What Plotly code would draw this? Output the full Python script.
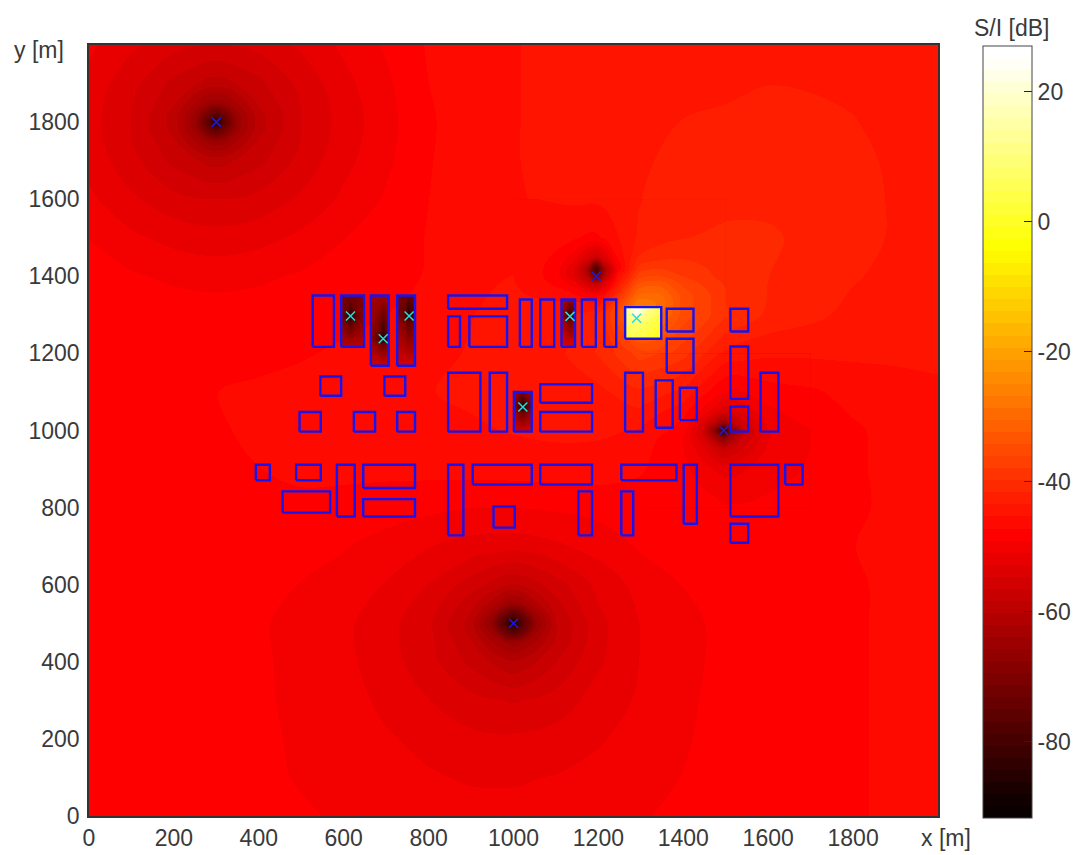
import plotly.graph_objects as go

# ---------- axis / colour bar ----------
X_TICKS = [0, 200, 400, 600, 800, 1000, 1200, 1400, 1600, 1800]
Y_TICKS = [0, 200, 400, 600, 800, 1000, 1200, 1400, 1600, 1800]
CBAR_TICKS = [20, 0, -20, -40, -60, -80]
CBAR_TEXT = ["20", "0", "-20", "-40", "-60", "-80"]
ZMIN, ZMAX = -91.7, 27.0

# ---------- S/I field (dB), rows from y=2000 downwards ----------
FIELD_X = [0, 100, 200, 300, 400, 500, 600, 700, 800, 900, 1000, 1100, 1200, 1300, 1400, 1500, 1600, 1700, 1800, 1900, 2000]
FIELD_Y = [2000, 1900, 1800, 1700, 1600, 1500, 1400, 1300, 1200, 1100, 1000, 900, 800, 700, 600, 500, 400, 300, 200, 100, 0]
FIELD_Z = [
    [-50.5,-52.4,-54,-54.6,-54,-52.4,-50.5,-48.8,-47,-46.2,-45.4,-45,-44.8,-44.7,-44.6,-44.5,-44.5,-44.5,-44.5,-44.6,-44.7],
    [-51.5,-54,-57,-59,-57,-54,-51.5,-49.4,-47.2,-46.2,-45.4,-45,-44.7,-44.4,-44.1,-43.8,-43.5,-43.6,-43.8,-44.2,-44.5],
    [-52,-54.6,-59,-62,-59,-54.6,-52,-49.7,-47.4,-46.3,-45.4,-45,-44.6,-44.2,-43.4,-43.2,-43.1,-43.1,-43.4,-44,-44.4],
    [-51.5,-54,-57,-59,-57,-54,-51.5,-49.4,-47.3,-46.3,-45.4,-45,-44.5,-43.7,-43,-42.8,-42.6,-42.6,-43,-43.8,-44.3],
    [-50.5,-52.4,-54,-54.6,-54,-52.4,-50.5,-48.8,-47.2,-46.3,-45.5,-45,-44.5,-43.5,-42.6,-42.2,-42,-42.2,-42.8,-43.7,-44.3],
    [-49.1,-50.5,-51.5,-52,-51.5,-50.5,-49.1,-48,-47.1,-46.4,-45.7,-45,-44.8,-43.5,-41.7,-41.2,-41.4,-42,-42.8,-43.7,-44.4],
    [-48,-48.8,-49.4,-49.7,-49.4,-48.8,-48.2,-47.6,-47.1,-46.5,-45.3,-47,-50,-36,-38.5,-40.5,-41.6,-42.4,-43.3,-44,-44.7],
    [-47.6,-47.8,-48,-48.1,-48,-47.8,-47.5,-47.2,-46.5,-45.4,-44.6,-44,-40,-28,-35,-39.5,-42,-43,-44,-44.8,-45.2],
    [-47.5,-47.5,-47.5,-47.5,-47.5,-47.3,-47,-46.5,-45.8,-45.2,-44.6,-44,-41.5,-37,-39,-44,-45,-45,-45,-45,-45],
    [-47.5,-47.5,-47.5,-47.2,-47,-46.8,-46.5,-45.8,-45.4,-45,-44.6,-44.3,-44,-42,-44,-49,-48,-47.5,-46.5,-46,-45.6],
    [-47.6,-47.6,-47.5,-47.3,-47,-46.8,-46.6,-46.3,-46,-45.6,-45.2,-44.9,-45,-45.5,-48,-55,-51,-49,-47.5,-46.5,-46.2],
    [-47.7,-47.7,-47.6,-47.4,-47.2,-47,-46.9,-46.8,-46.6,-46.5,-46.4,-46.3,-46.3,-47,-48.5,-51.5,-50,-48.8,-47.5,-46.6,-46.4],
    [-47.6,-47.6,-47.6,-47.5,-47.4,-47.4,-47.6,-48,-48.6,-49,-49,-48.8,-48.4,-48,-47.8,-48.8,-48.5,-48,-47.4,-46.9,-46.6],
    [-47.5,-47.5,-47.6,-47.7,-47.9,-48.3,-48.9,-49.9,-50.8,-51.6,-51.9,-51.2,-50.2,-48.8,-48.2,-47.9,-47.7,-47.5,-47.2,-47,-46.6],
    [-47.5,-47.6,-47.7,-48,-48.5,-49.1,-49.8,-51,-52.8,-57,-58,-57,-52.2,-50.2,-49,-48.4,-48,-47.6,-47.3,-47,-46.8],
    [-47.6,-47.7,-47.8,-48.2,-48.8,-49.7,-50.5,-52,-54.3,-59,-70,-58.4,-53.3,-50.8,-49.4,-48.7,-48.1,-47.7,-47.3,-47,-46.8],
    [-47.7,-47.8,-48,-48.4,-48.8,-49.5,-50.4,-51.9,-53.9,-57,-60,-56.5,-53,-50.8,-49.4,-48.7,-48.1,-47.7,-47.3,-47,-46.8],
    [-47.7,-47.8,-48,-48.4,-48.8,-49.4,-50.2,-51.3,-52.7,-54,-54.8,-53.8,-52,-50.6,-49.3,-48.6,-48,-47.6,-47.3,-47,-46.8],
    [-47.7,-47.8,-48,-48.3,-48.7,-49.3,-49.9,-50.7,-51.4,-52.3,-52.4,-52,-51.1,-50.1,-49.2,-48.5,-48,-47.6,-47.3,-47,-46.8],
    [-47.7,-47.8,-47.9,-48.2,-48.6,-49.2,-49.6,-50.1,-50.7,-51.1,-51.1,-50.8,-50.3,-49.6,-49,-48.4,-48,-47.6,-47.3,-47,-46.8],
    [-47.7,-47.7,-47.8,-48,-48.4,-48.8,-49.3,-49.6,-50,-50.2,-50.3,-50.2,-49.8,-49.2,-48.6,-48.2,-47.9,-47.6,-47.3,-47,-46.8],
]

# ---------- finer readings around the four transmitters ----------
NEAR1_X = [100, 200, 250, 280, 300, 320, 350, 400, 500]
NEAR1_Y = [2000, 1900, 1850, 1820, 1800, 1780, 1750, 1700, 1600]
NEAR1_Z = [
    [-52.4,-54,-54.5,-54.6,-54.6,-54.6,-54.5,-54,-52.4],
    [-54,-57,-58,-59,-59,-59,-58,-57,-54],
    [-54.5,-58,-62,-64.5,-65,-64.5,-62,-58,-54.5],
    [-54.6,-59,-64.5,-72,-76,-72,-64.5,-59,-54.6],
    [-54.6,-59,-65,-76,-86,-76,-65,-59,-54.6],
    [-54.6,-59,-64.5,-72,-76,-72,-64.5,-59,-54.6],
    [-54.5,-58,-62,-64.5,-65,-64.5,-62,-58,-54.5],
    [-54,-57,-58,-59,-59,-59,-58,-57,-54],
    [-52.4,-54,-54.5,-54.6,-54.6,-54.6,-54.5,-54,-52.4],
]
NEAR2_X = [800, 900, 950, 980, 1000, 1020, 1050, 1100, 1200]
NEAR2_Y = [700, 600, 550, 520, 500, 480, 450, 400, 300]
NEAR2_Z = [
    [-50.8,-51.6,-51.8,-51.9,-51.9,-51.9,-51.8,-51.2,-50.2],
    [-52.8,-55.5,-57,-58,-58.3,-58,-57,-55.5,-52.2],
    [-53.5,-57.5,-61,-64,-65,-64,-61,-57,-52.7],
    [-54,-58.5,-65,-74,-78,-74,-65,-58,-53],
    [-54.3,-59,-67,-78,-86,-78,-67,-58.4,-53.3],
    [-54.2,-59,-65,-74,-78,-74,-65,-58.5,-53.3],
    [-54,-58,-62,-64,-65,-64,-62,-58,-53.3],
    [-53.9,-57,-58.5,-59.5,-60,-59.5,-58.5,-56.5,-53],
    [-52.7,-54,-54.5,-54.7,-54.8,-54.6,-54.4,-53.8,-52],
]
NEAR3_X = [1000, 1100, 1145, 1175, 1195, 1215, 1245, 1295, 1345, 1400, 1500]
NEAR3_Y = [1600, 1500, 1450, 1420, 1400, 1380, 1350, 1330, 1300, 1200]
NEAR3_Z = [
    [-45.5,-45.2,-45,-45,-45,-44.8,-44.4,-43.6,-43,-42.6,-42.2],
    [-45.7,-46.5,-47,-47.5,-47.5,-47,-45.5,-43.2,-42.3,-41.7,-41.2],
    [-45.5,-47.5,-50,-54,-56,-53,-47,-41.5,-40.5,-40,-40.8],
    [-45.3,-48,-53,-62,-80,-62,-49,-39,-38,-38.8,-40.5],
    [-45.3,-48,-53,-60,-75,-60,-46,-37,-36,-38,-40.5],
    [-45.2,-47.5,-50,-55,-58,-53,-44,-34,-33,-36.5,-40],
    [-45,-46,-47,-48,-48,-46,-40,-30,-30,-35,-39.5],
    [-44.8,-45,-45,-45,-45,-43,-37.5,-27,-29,-35,-39.5],
    [-44.6,-44,-43.5,-43,-42,-40,-35,-27,-30,-35,-39.5],
    [-44.6,-44,-43,-42.5,-41.5,-41,-39.5,-37.2,-37,-39,-44],
]
NEAR4_X = [1300, 1400, 1445, 1475, 1495, 1515, 1545, 1600, 1700]
NEAR4_Y = [1200, 1100, 1050, 1020, 1000, 980, 950, 900, 800]
NEAR4_Z = [
    [-37,-39,-41.5,-43,-44,-44.2,-44.5,-45,-45],
    [-42,-44,-46.5,-48,-49,-49.5,-49,-48,-47.5],
    [-44,-46.5,-49.5,-52,-54,-53.5,-52,-49.5,-48],
    [-45,-47.5,-53,-60,-65,-60,-55,-50.5,-48.5],
    [-45.5,-48,-55,-68,-84,-68,-57,-51,-49],
    [-46,-49,-54,-62,-68,-62,-56,-51,-49],
    [-46.5,-49,-52,-55,-57,-56,-54,-50.5,-49],
    [-47,-48.5,-50,-51,-51.5,-51.5,-51,-50,-48.8],
    [-48,-47.8,-48,-48.3,-48.8,-48.8,-48.8,-48.5,-48],
]

# ---------- readings inside the six buildings that hold a mobile ----------
INDOOR1_X = [594, 604, 616, 628, 648]
INDOOR1_Y = [1350, 1312, 1297, 1282, 1217]
INDOOR1_Z = [[-72,-71,-70,-71,-72],[-70,-72,-80,-72,-68],[-68,-78,-86,-76,-68],[-68,-72,-78,-72,-67],[-60,-60,-59,-60,-60]]
INDOOR2_X = [664, 680, 693, 706]
INDOOR2_Y = [1350, 1253, 1238, 1223, 1168]
INDOOR2_Z = [[-63,-63,-63,-63],[-66,-72,-82,-72],[-67,-76,-86,-76],[-64,-68,-74,-68],[-56,-56,-56,-56]]
INDOOR3_X = [726, 742, 754, 768]
INDOOR3_Y = [1350, 1312, 1297, 1282, 1168]
INDOOR3_Z = [[-70,-72,-73,-72],[-70,-74,-82,-75],[-68,-76,-86,-76],[-66,-70,-76,-70],[-55,-55,-55,-55]]
INDOOR4_X = [1001, 1010, 1022, 1034, 1043]
INDOOR4_Y = [1100, 1076, 1061, 1046, 997]
INDOOR4_Z = [[-62,-66,-70,-66,-62],[-64,-72,-80,-72,-68],[-64,-76,-86,-76,-72],[-62,-68,-74,-68,-64],[-56,-56,-56,-56,-56]]
INDOOR5_X = [1113, 1123, 1133, 1145]
INDOOR5_Y = [1340, 1311, 1296, 1281, 1217]
INDOOR5_Z = [[-60,-62,-63,-63],[-62,-70,-78,-70],[-62,-74,-84,-72],[-60,-66,-72,-66],[-54,-54,-54,-54]]
INDOOR6_X = [1263, 1275, 1290, 1305, 1348]
INDOOR6_Y = [1320, 1306, 1291, 1276, 1238]
INDOOR6_Z = [[8,16,22,16,4],[8,15,25,15,3.5],[6.5,11,15,10.5,3],[5,8,9,7,1.5],[3,4,4,3,-2]]

# ---------- buildings ----------
BLD_X0 = [527,594,664,726,846,846,896,1015,545,696,496,624,726,846,944,1001,393,488,584,646,456,646,846,904,953,
          1063,1113,1161,1214,1263,1361,1361,1511,1511,1263,1335,1392,1582,1511,1063,1063,1063,1254,1401,1511,1640,1153,1254,1511]
BLD_X1 = [577,648,706,768,985,874,985,1043,594,745,546,674,768,922,985,1043,426,546,626,768,568,768,882,1043,1003,
          1096,1145,1194,1242,1348,1424,1424,1553,1553,1305,1375,1432,1624,1553,1185,1185,1185,1384,1432,1624,1681,1185,1282,1553]
BLD_Y0 = [1217,1217,1168,1168,1316,1217,1217,1217,1090,1090,997,997,997,997,997,997,871,871,777,851,787,777,728,860,748,
          1217,1217,1217,1217,1238,1257,1150,1257,1082,997,1007,1027,997,997,1072,997,860,871,758,777,860,728,728,709]
BLD_Y1 = [1350,1350,1350,1350,1350,1296,1296,1340,1140,1140,1048,1048,1048,1150,1150,1100,911,911,911,911,842,822,911,911,803,
          1340,1340,1340,1340,1320,1316,1238,1316,1218,1150,1130,1111,1150,1062,1120,1048,911,911,911,911,911,842,842,758]

# ---------- transmitters and mobiles ----------
TX_X = [300, 1000, 1195, 1495]
TX_Y = [1800, 500, 1400, 1000]
MOBILE_X = [616, 693, 754, 1022, 1133, 1290]
MOBILE_Y = [1297, 1238, 1297, 1061, 1296, 1291]


def hot_colour(i):
    r = min(1.0, (i + 1) / 24)
    g = min(1.0, max(0.0, (i + 1 - 24) / 24))
    b = min(1.0, max(0.0, (i + 1 - 48) / 16))
    return f"rgb({round(r*255)},{round(g*255)},{round(b*255)})"


N_LEVELS = 64
# A contour trace colours band k from stop (k+1)/N; stop 0 is only its background rectangle.
HOT = [[0, hot_colour(0)]] + [[(i + 1) / N_LEVELS, hot_colour(i)] for i in range(N_LEVELS)]
LEVEL = (ZMAX - ZMIN) / N_LEVELS

# pixel geometry of the page
PW, PH = 1077, 855
AX_L, AX_R, AX_T, AX_B = 89, 938, 45, 816
BAR_L, BAR_R, BAR_T, BAR_B = 983, 1032, 46, 818
px = lambda p: (p - AX_L) / (AX_R - AX_L)
py = lambda p: (AX_B - p) / (AX_B - AX_T)


def field(x, y, z, first=False, smooth=1.0):
    kw = dict(
        colorbar=dict(
            x=px(BAR_L), xanchor="left", xpad=0, y=py(BAR_T), yanchor="top", ypad=0,
            thickness=BAR_R - BAR_L, thicknessmode="pixels", len=BAR_B - BAR_T, lenmode="pixels",
            tickmode="array", tickvals=CBAR_TICKS, ticktext=CBAR_TEXT,
            ticks="inside", ticklen=8, tickwidth=1, tickcolor="#222",
            tickfont=dict(family="Liberation Sans", size=23, color="#3a3a3a"),
            outlinecolor="#444", outlinewidth=1, ticklabelposition="outside",
        )
    ) if first else {}
    return go.Contour(
        x=x, y=y[::-1], z=z[::-1], colorscale=HOT, zmin=ZMIN, zmax=ZMAX,
        autocontour=False, contours=dict(start=ZMIN, end=ZMAX - LEVEL, size=LEVEL, coloring="fill", showlines=False),
        line=dict(width=0, color="rgba(0,0,0,0)", smoothing=smooth), showscale=first, hoverinfo="skip", **kw,
    )


fig = go.Figure()
fig.add_trace(field(FIELD_X, FIELD_Y, FIELD_Z, first=True))
for xs, ys, zs in [
    (NEAR1_X, NEAR1_Y, NEAR1_Z), (NEAR2_X, NEAR2_Y, NEAR2_Z),
    (NEAR3_X, NEAR3_Y, NEAR3_Z), (NEAR4_X, NEAR4_Y, NEAR4_Z),
    (INDOOR1_X, INDOOR1_Y, INDOOR1_Z), (INDOOR2_X, INDOOR2_Y, INDOOR2_Z),
    (INDOOR3_X, INDOOR3_Y, INDOOR3_Z), (INDOOR4_X, INDOOR4_Y, INDOOR4_Z),
    (INDOOR5_X, INDOOR5_Y, INDOOR5_Z), (INDOOR6_X, INDOOR6_Y, INDOOR6_Z),
]:
    fig.add_trace(field(xs, ys, zs))

bx, by = [], []
for x0, x1, y0, y1 in zip(BLD_X0, BLD_X1, BLD_Y0, BLD_Y1):
    bx += [x0, x1, x1, x0, x0, None]
    by += [y0, y0, y1, y1, y0, None]
fig.add_trace(go.Scatter(x=bx, y=by, mode="lines", line=dict(color="#1414f0", width=2.4), hoverinfo="skip"))
fig.add_trace(go.Scatter(x=TX_X, y=TX_Y, mode="markers",
                         marker=dict(symbol="x-thin", size=9, line=dict(color="#1a1ae0", width=1.5))))
fig.add_trace(go.Scatter(x=MOBILE_X, y=MOBILE_Y, mode="markers",
                         marker=dict(symbol="x-thin", size=9, line=dict(color="#20e0e0", width=1.5))))

# left-hand colour-bar ticks (the bar's own ticks only sit on one side)
shapes = []
for v in CBAR_TICKS:
    yp = BAR_B - (v - ZMIN) / (ZMAX - ZMIN) * (BAR_B - BAR_T)
    shapes.append(dict(type="line", xref="paper", yref="paper", x0=px(BAR_L), x1=px(BAR_L + 8),
                       y0=py(yp), y1=py(yp), line=dict(color="#222", width=1)))

FONT = dict(family="Liberation Sans", size=23, color="#3a3a3a")


def label(text, xp, yp):
    return dict(text=text, xref="paper", yref="paper", x=px(xp), y=py(yp), xanchor="center", yanchor="middle",
                showarrow=False, font=FONT)


fig.update_layout(
    width=PW, height=PH, margin=dict(l=AX_L, r=PW - AX_R, t=AX_T, b=PH - AX_B, autoexpand=False),
    paper_bgcolor="white", plot_bgcolor="white", showlegend=False, font=FONT, shapes=shapes,
    annotations=[label("x [m]", 946, 838), label("y [m]", 39, 50), label("S/I [dB]", 1011, 28)],
    xaxis=dict(range=[0, 2000], tickmode="array", tickvals=X_TICKS, ticks="outside", ticklen=1, tickcolor="rgba(0,0,0,0)",
               showgrid=False, zeroline=False, showline=True, linecolor="#333", linewidth=1.5, mirror=True, tickfont=FONT),
    yaxis=dict(range=[0, 2000], tickmode="array", tickvals=Y_TICKS, ticks="outside", ticklen=3, tickcolor="rgba(0,0,0,0)",
               showgrid=False, zeroline=False, showline=True, linecolor="#333", linewidth=1.5, mirror=True, tickfont=FONT),
)
# The stacked contour fills fringe dark where anti-aliased at a patch's edge, so they are drawn crisp.
POST = ("document.body.style.margin='0';"
        "document.head.insertAdjacentHTML('beforeend',"
        "'<style>.contourfill path,.contourbg path{shape-rendering:crispEdges}</style>');")
fig.write_html("out.html", config=dict(displayModeBar=False), post_script=POST)
